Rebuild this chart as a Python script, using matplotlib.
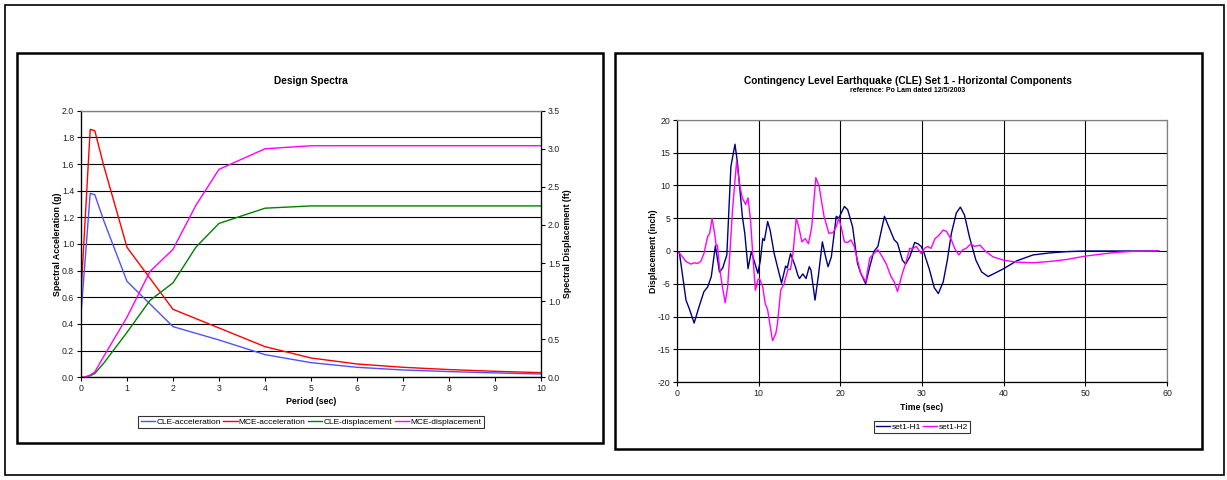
import matplotlib
matplotlib.use("Agg")
import matplotlib.pyplot as plt
from matplotlib.patches import Rectangle

plt.rcParams['font.family'] = ['Liberation Sans', 'DejaVu Sans']
plt.rcParams['axes.unicode_minus'] = False

# ---------------- data: Design Spectra ----------------
period_acc = [0.01, 0.2, 0.3, 0.5, 1, 2, 3, 4, 5, 6, 7, 8, 9, 10]
cle_acc = [0.52, 1.38, 1.37, 1.17, 0.72, 0.38, 0.28, 0.17, 0.11, 0.075, 0.055, 0.043, 0.033, 0.025]
mce_acc = [0.69, 1.86, 1.85, 1.58, 0.975, 0.51, 0.37, 0.23, 0.145, 0.10, 0.075, 0.058, 0.045, 0.035]

period_disp = [0, 0.1, 0.2, 0.3, 0.5, 1, 1.5, 2, 2.5, 3, 4, 5, 6, 7, 8, 9, 10]
cle_disp = [0, 0.005, 0.02, 0.05, 0.19, 0.59, 1.01, 1.24, 1.71, 2.02, 2.22, 2.25, 2.25, 2.25, 2.25, 2.25, 2.25]
mce_disp = [0, 0.007, 0.03, 0.07, 0.28, 0.79, 1.39, 1.68, 2.26, 2.73, 3.00, 3.04, 3.04, 3.04, 3.04, 3.04, 3.04]

spec_labels = ['CLE-acceleration', 'MCE-acceleration', 'CLE-displacement', 'MCE-displacement']

# ---------------- data: CLE Set 1 time histories ----------------
h1_t = [0, 0.3, 1.1, 1.5, 2.1, 2.7, 3.3, 3.75, 4.2, 4.7, 5.2, 5.6, 6.1, 6.6, 7.1, 7.4,
        8.0, 8.3, 8.7, 9.1, 9.3, 9.9, 10.2, 10.5, 10.7, 11.1, 11.4, 11.9, 12.3, 12.8,
        13.3, 13.5, 13.9, 14.5, 14.8, 15.0, 15.4, 15.8, 16.2, 16.4, 16.9, 17.3, 17.8,
        18.2, 18.5, 18.9, 19.5, 19.8, 20.5, 20.9, 21.5, 22.1, 22.5, 23.1, 23.6, 24.1,
        24.6, 25.4, 26.0, 26.6, 27.0, 27.6, 28.0, 28.5, 29.1, 29.5, 29.9, 30.2, 30.9,
        31.5, 32.0, 32.6, 33.1, 33.6, 34.2, 34.7, 35.2, 35.8, 36.6, 37.3, 38.1, 38.9,
        40.0, 41.6, 43.6, 45.6, 47.7, 49.9, 52.0, 59.0]
h1_v = [0, -0.3, -7.5, -8.8, -11.0, -8.5, -6.2, -5.5, -3.9, 0.8, -3.2, -2.6, -0.6, 12.9,
        16.3, 13.5, 5.3, 2.7, -2.7, -0.1, -0.9, -3.4, -1.5, 1.9, 1.6, 4.5, 3.2, -0.4,
        -2.4, -4.9, -2.3, -2.6, -0.4, -2.4, -3.7, -4.2, -3.5, -4.2, -2.4, -2.9, -7.5,
        -3.9, 1.4, -0.9, -2.4, -0.9, 5.3, 5.0, 6.8, 6.3, 3.7, -1.9, -3.4, -5.0, -2.4,
        -0.1, 0.7, 5.3, 3.5, 1.7, 1.2, -1.4, -2.0, -0.9, 1.3, 1.1, 0.7, -0.1, -2.8,
        -5.6, -6.5, -4.7, -1.4, 2.7, 5.8, 6.7, 5.5, 2.2, -1.4, -3.2, -3.9, -3.4,
        -2.7, -1.5, -0.6, -0.3, -0.1, 0.0, 0.0, 0.0]

h2_t = [0, 0.5, 1.1, 1.7, 2.1, 2.5, 2.9, 3.3, 3.75, 4.0, 4.3, 4.6, 4.8, 4.95, 5.2, 5.5,
        5.9, 6.2, 6.5, 6.8, 7.3, 7.7, 8.0, 8.4, 8.7, 9.0, 9.3, 9.6, 9.9, 10.1, 10.5,
        10.8, 11.1, 11.3, 11.7, 12.1, 12.3, 12.7, 13.1, 13.6, 13.9, 14.2, 14.6, 14.9,
        15.3, 15.7, 16.1, 16.5, 17.0, 17.4, 18.0, 18.6, 19.1, 19.5, 19.8, 20.1, 20.5,
        20.9, 21.3, 21.7, 22.1, 22.5, 23.1, 23.6, 24.1, 24.6, 25.0, 25.6, 26.2, 26.6,
        27.0, 27.6, 28.0, 28.5, 28.9, 29.3, 29.9, 30.3, 30.7, 31.1, 31.6, 32.0, 32.6,
        33.0, 33.6, 34.0, 34.5, 35.0, 35.4, 36.0, 36.4, 37.1, 37.7, 38.7, 40.0, 41.6,
        43.6, 45.6, 47.7, 49.9, 51.8, 53.8, 55.9, 58.9]
h2_v = [0, -0.6, -1.6, -2.0, -1.8, -1.9, -1.6, -0.4, 2.2, 2.7, 5.0, 2.7, 0.8, 0.9, -2.4,
        -5.0, -7.9, -5.5, 0.2, 6.3, 13.7, 9.9, 8.1, 7.1, 8.1, 4.8, -1.0, -6.0, -4.4,
        -4.2, -5.5, -8.0, -9.0, -10.6, -13.7, -12.6, -11.1, -6.0, -5.0, -2.8, -2.8,
        -0.4, 5.0, 3.7, 1.4, 1.9, 1.1, 3.7, 11.2, 9.9, 5.3, 2.7, 2.8, 3.7, 5.0, 3.7,
        1.4, 1.3, 1.7, 0.7, -1.4, -3.4, -4.7, -1.1, -0.4, 0.2, -0.6, -1.9, -3.9, -4.7,
        -6.2, -3.4, -1.9, 0.4, 0.4, 0.7, -0.4, 0.4, 0.7, 0.4, 1.9, 2.3, 3.2, 3.0, 1.7,
        0.4, -0.6, 0.2, 0.4, 1.1, 0.7, 0.9, 0.05, -0.9, -1.4, -1.7, -1.8, -1.6, -1.3,
        -0.8, -0.5, -0.2, -0.05, 0.0]

th_labels = ['set1-H1', 'set1-H2']

# ---------------- figure ----------------
W, H = 1227, 480
fig = plt.figure(figsize=(W / 100, H / 100), dpi=100)


def fx(x):
    return x / W


def fy(y):
    return 1 - y / H


def box(x0, y0, x1, y1, lw=1.5):
    r = Rectangle((fx(x0), fy(y1)), fx(x1) - fx(x0), fy(y0) - fy(y1), fill=False,
                  lw=lw, edgecolor='black', transform=fig.transFigure, figure=fig)
    fig.patches.append(r)


# outer frame and chart frames
box(5, 5, 1224, 475, lw=1.2)
box(17, 53, 603, 443, lw=1.8)
box(615, 53, 1202, 449, lw=1.8)

TICK_FS = 6.3
LAB_FS = 6.3


def style_axes(ax):
    for s in ['top', 'right']:
        ax.spines[s].set_color('#808080')
        ax.spines[s].set_linewidth(0.9)
    for s in ['left', 'bottom']:
        ax.spines[s].set_color('black')
        ax.spines[s].set_linewidth(0.9)
    ax.tick_params(direction='out', length=3, width=0.8, labelsize=TICK_FS, colors='black',
                   labelcolor='#222222', pad=2)
    ax.set_facecolor('white')


# ---------- left chart ----------
ax1 = fig.add_axes([fx(81), fy(377.3), fx(541) - fx(81), fy(110.7) - fy(377.3)])
style_axes(ax1)
ax1.set_xlim(0, 10)
ax1.set_ylim(0, 2.0)
ax1.set_xticks(range(0, 11))
ax1.set_yticks([i * 0.2 for i in range(11)])
ax1.set_yticklabels([f"{i * 0.2:.1f}" for i in range(11)])
ax1.grid(axis='y', color='black', lw=0.8)
ax1.set_axisbelow(True)
l1, = ax1.plot(period_acc, cle_acc, color='#5050FF', lw=1.0)
l2, = ax1.plot(period_acc, mce_acc, color='#FF0000', lw=1.0)

ax2 = ax1.twinx()
ax2.set_ylim(0, 3.5)
ax2.set_yticks([i * 0.5 for i in range(8)])
ax2.set_yticklabels([f"{i * 0.5:.1f}" for i in range(8)])
ax2.spines['right'].set_color('black')
ax2.spines['right'].set_linewidth(0.9)
ax2.spines['top'].set_color('#808080')
ax2.tick_params(direction='out', length=3, width=0.8, labelsize=TICK_FS, labelcolor='#222222', pad=2)
l3, = ax2.plot(period_disp, cle_disp, color='#008000', lw=1.0)
l4, = ax2.plot(period_disp, mce_disp, color='#FF00FF', lw=1.0)

fig.text(fx(311), fy(81), 'Design Spectra', ha='center', va='center', fontsize=7.3, fontweight='bold')
fig.text(fx(311), fy(402), 'Period (sec)', ha='center', va='center', fontsize=LAB_FS, fontweight='bold')
fig.text(fx(57), fy(244), 'Spectral Acceleration (g)', ha='center', va='center', rotation=90,
         fontsize=LAB_FS, fontweight='bold')
fig.text(fx(568), fy(244), 'Spectral Displacement (ft)', ha='center', va='center', rotation=90,
         fontsize=LAB_FS, fontweight='bold')

leg1 = fig.legend([l1, l2, l3, l4], spec_labels, loc='center', bbox_to_anchor=(fx(311), fy(422)),
                  ncol=4, fontsize=6.0, frameon=True, fancybox=False, edgecolor='black',
                  handlelength=1.7, handletextpad=0.15, columnspacing=0.3, borderpad=0.3,
                  borderaxespad=0)
leg1.get_frame().set_linewidth(0.8)

# ---------- right chart ----------
ax3 = fig.add_axes([fx(677), fy(382), fx(1167) - fx(677), fy(120) - fy(382)])
style_axes(ax3)
ax3.set_xlim(0, 60)
ax3.set_ylim(-20, 20)
ax3.set_xticks(range(0, 61, 10))
ax3.set_yticks(range(-20, 21, 5))
ax3.grid(True, color='black', lw=0.8)
ax3.set_axisbelow(True)
m1, = ax3.plot(h1_t, h1_v, color='#000080', lw=1.0)
m2, = ax3.plot(h2_t, h2_v, color='#FF00FF', lw=1.0)

fig.text(fx(908), fy(81), 'Contingency Level Earthquake (CLE) Set 1 - Horizontal Components',
         ha='center', va='center', fontsize=7.3, fontweight='bold')
fig.text(fx(908), fy(90.5), 'reference: Po Lam dated 12/5/2003', ha='center', va='center',
         fontsize=5.0, fontweight='bold')
fig.text(fx(922), fy(408), 'Time (sec)', ha='center', va='center', fontsize=LAB_FS, fontweight='bold')
fig.text(fx(653), fy(251), 'Displacement (inch)', ha='center', va='center', rotation=90,
         fontsize=LAB_FS, fontweight='bold')

leg2 = fig.legend([m1, m2], th_labels, loc='center', bbox_to_anchor=(fx(922), fy(427)),
                  ncol=2, fontsize=6.0, frameon=True, fancybox=False, edgecolor='black',
                  handlelength=1.7, handletextpad=0.15, columnspacing=0.3, borderpad=0.3,
                  borderaxespad=0)
leg2.get_frame().set_linewidth(0.8)

fig.savefig('out.png', dpi=100, facecolor='white')
